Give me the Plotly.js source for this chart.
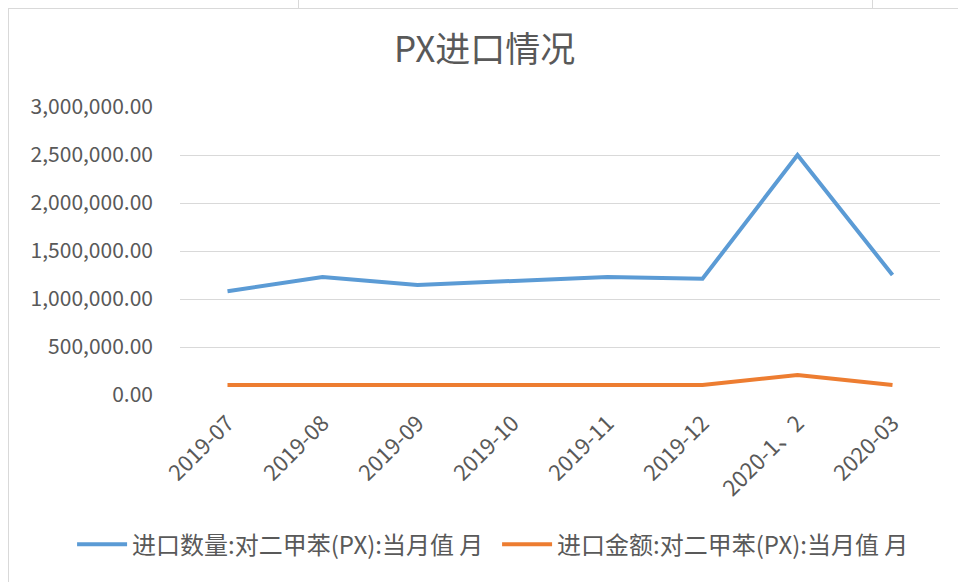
<!DOCTYPE html>
<html>
<head>
<meta charset="utf-8">
<script src="https://cdn.plot.ly/plotly-3.0.1.min.js"></script>
<style>
  html, body { margin: 0; padding: 0; background: #fff; }
  #chart { position: absolute; left: 0; top: 0; width: 958px; height: 582px; }
  .rule { position: absolute; background: #d9d9d9; }
</style>
</head>
<body>
<div id="chart"></div>
<!-- spreadsheet cell edges around the chart object -->
<div class="rule" style="left:8px; top:8px; width:950px; height:1px;"></div>
<div class="rule" style="left:8px; top:8px; width:1px; height:574px;"></div>
<div class="rule" style="left:298px; top:0; width:1px; height:8px;"></div>
<div class="rule" style="left:872px; top:0; width:1px; height:8px;"></div>
<script>
const months = ['2019-07', '2019-08', '2019-09', '2019-10', '2019-11', '2019-12', '2020-1、2', '2020-03'];
const importVolume = [1080000, 1230000, 1145000, 1190000, 1230000, 1210000, 2500000, 1250000];
const importValue = [104000, 104000, 104000, 104000, 104000, 104000, 208000, 104000];
const yTicks = [0, 500000, 1000000, 1500000, 2000000, 2500000, 3000000];

const font = '"Noto Sans CJK SC", "Open Sans", sans-serif';
const grey = '#595959';

const data = [
    {
        x: months,
        y: importVolume,
        mode: 'lines',
        name: '进口数量:对二甲苯(PX):当月值 月',
        line: { color: '#5B9BD5', width: 4 }
    },
    {
        x: months,
        y: importValue,
        mode: 'lines',
        name: '进口金额:对二甲苯(PX):当月值 月',
        line: { color: '#ED7D31', width: 4 }
    }
];

const layout = {
    width: 958,
    height: 582,
    paper_bgcolor: 'rgba(0,0,0,0)',
    plot_bgcolor: 'rgba(0,0,0,0)',
    margin: { t: 107, b: 187, l: 180, r: 18 },
    font: { family: font, color: grey },
    title: {
        text: 'PX进口情况',
        font: { family: font, size: 35, color: grey },
        x: 0.506, xanchor: 'center',
        y: 0.915, yanchor: 'middle'
    },
    xaxis: {
        type: 'category',
        range: [-0.5, 7.5],
        tickangle: -45,
        tickfont: { size: 22, color: grey },
        showgrid: false,
        showline: false,
        ticks: '',
        ticklabelstandoff: 10
    },
    yaxis: {
        range: [0, 3000000],
        tickvals: yTicks,
        ticktext: yTicks.map(v => v.toLocaleString('en-US', { minimumFractionDigits: 2, maximumFractionDigits: 2 })),
        tickfont: { size: 21, color: grey },
        gridcolor: '#d9d9d9',
        gridwidth: 1,
        zeroline: false,
        showline: false,
        ticks: '',
        ticklabelstandoff: 26
    },
    showlegend: true,
    legend: {
        orientation: 'h',
        x: -0.142, xanchor: 'left',
        y: -0.52, yanchor: 'middle',
        font: { size: 24, color: grey },
        itemwidth: 50,
        entrywidth: 360,
        bgcolor: 'rgba(0,0,0,0)'
    }
};

Plotly.newPlot('chart', data, layout, { displayModeBar: false });
</script>
</body>
</html>
